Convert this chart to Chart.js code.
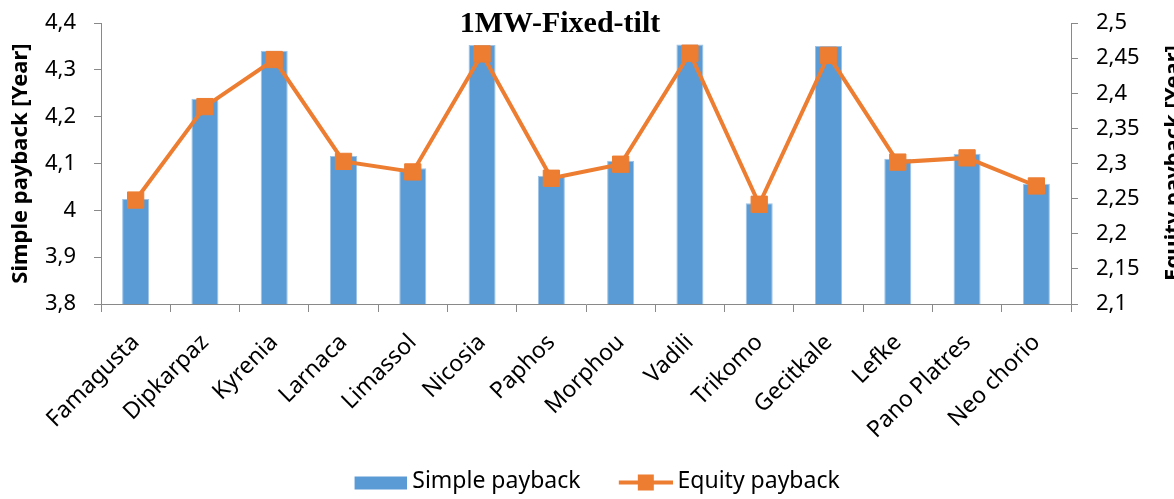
<!DOCTYPE html>
<html>
<head>
<meta charset="utf-8">
<script src="https://cdn.jsdelivr.net/npm/chart.js@4"></script>
<style>
  body { margin: 0; background: #fff; }
  #wrap { width: 1174px; height: 499px; }
</style>
</head>
<body>
<div id="wrap"><canvas id="paybackChart" width="1174" height="499"></canvas></div>
<script>
// data
const sites = ['Famagusta', 'Dipkarpaz', 'Kyrenia', 'Larnaca', 'Limassol', 'Nicosia', 'Paphos',
               'Morphou', 'Vadili', 'Trikomo', 'Gecitkale', 'Lefke', 'Pano Platres', 'Neo chorio'];
const simplePayback = [4.024, 4.238, 4.341, 4.116, 4.090, 4.353, 4.074,
                       4.106, 4.354, 4.015, 4.351, 4.110, 4.121, 4.057];
const equityPayback = [2.248, 2.381, 2.448, 2.303, 2.288, 2.456, 2.279,
                       2.299, 2.457, 2.242, 2.454, 2.302, 2.308, 2.268];
const leftTicks = [3.8, 3.9, 4.0, 4.1, 4.2, 4.3, 4.4];
const rightTicks = [2.1, 2.15, 2.2, 2.25, 2.3, 2.35, 2.4, 2.45, 2.5];

const blue = '#5B9BD5';
const orange = '#ED7D31';
const axisGrey = '#898989';

Chart.defaults.font.family = "'Noto Sans', sans-serif";
Chart.defaults.color = '#000';

function commaLabel(v) {
    return String(Number(v.toFixed(2))).replace('.', ',');
}

// legend symbols, drawn to the right side of their image so the gaps look like excel
function barSymbol() {
    const c = document.createElement('canvas');
    c.width = 78; c.height = 28;
    const g = c.getContext('2d');
    g.fillStyle = blue;
    g.fillRect(26, 9, 52, 13);
    return c;
}
function lineSymbol() {
    const c = document.createElement('canvas');
    c.width = 80; c.height = 28;
    const g = c.getContext('2d');
    g.strokeStyle = orange;
    g.lineWidth = 4;
    g.beginPath(); g.moveTo(26, 15); g.lineTo(80, 15); g.stroke();
    g.fillStyle = orange;
    g.fillRect(45, 7, 16, 16);
    return c;
}
const symbols = [barSymbol(), lineSymbol()];

const extraText = {
    id: 'extraText',
    afterDraw(chart) {
        const ctx = chart.ctx;
        ctx.save();
        ctx.fillStyle = '#000';
        ctx.font = "bold 30px 'Liberation Serif', serif";
        ctx.textAlign = 'center';
        ctx.textBaseline = 'alphabetic';
        ctx.fillText('1MW-Fixed-tilt', 560, 32);
        // right axis title, cut by the edge like the original
        ctx.translate(1180, 163);
        ctx.rotate(-Math.PI / 2);
        ctx.font = "bold 22px 'Noto Sans', sans-serif";
        ctx.fillText('Equity payback [Year]', 0, 0);
        ctx.restore();
    }
};

function noOverhang(scale) {
    scale.paddingTop = 0;
    scale.paddingBottom = 0;
}

new Chart(document.getElementById('paybackChart'), {
    data: {
        labels: sites,
        datasets: [{
            type: 'bar',
            label: 'Simple payback',
            data: simplePayback,
            backgroundColor: blue,
            borderColor: '#9DC3E6',
            borderWidth: 1,
            barPercentage: 0.39,
            categoryPercentage: 1,
            yAxisID: 'y',
            order: 1
        }, {
            type: 'line',
            label: 'Equity payback',
            data: equityPayback,
            borderColor: orange,
            backgroundColor: orange,
            borderWidth: 4,
            tension: 0,
            pointStyle: 'rect',
            pointRadius: 11.5,
            pointBorderWidth: 1,
            yAxisID: 'y1',
            order: 0
        }]
    },
    options: {
        responsive: false,
        animation: false,
        layout: { padding: { top: 23, left: 0, right: 0, bottom: -4 } },
        plugins: {
            legend: {
                position: 'bottom',
                labels: {
                    usePointStyle: true,
                    pointStyleWidth: 66.5,
                    padding: 19,
                    font: { size: 23 },
                    generateLabels(chart) {
                        return chart.data.datasets.map((ds, i) => ({
                            text: ds.label,
                            pointStyle: symbols[i],
                            datasetIndex: i,
                            hidden: false,
                            lineWidth: 0
                        }));
                    }
                }
            },
            tooltip: { enabled: false }
        },
        scales: {
            x: {
                grid: { display: true, drawOnChartArea: false, tickLength: 8, color: axisGrey, offset: true },
                border: { color: axisGrey },
                ticks: { maxRotation: 45, minRotation: 45, font: { size: 23 }, padding: 17 },
                afterFit(scale) { scale.height = 147; }
            },
            y: {
                position: 'left',
                min: 3.8, max: 4.4,
                afterBuildTicks(scale) { scale.ticks = leftTicks.map(v => ({ value: v })); },
                grid: { drawOnChartArea: false, tickLength: 7, color: axisGrey },
                border: { color: axisGrey },
                ticks: { font: { size: 22 }, padding: 18, callback: v => commaLabel(v) },
                title: { display: true, text: 'Simple payback [Year]', font: { size: 22, weight: 'bold' }, padding: { top: 8, bottom: 0 } },
                afterFit(scale) { scale.width = 101; noOverhang(scale); }
            },
            y1: {
                position: 'right',
                min: 2.1, max: 2.5,
                afterBuildTicks(scale) { scale.ticks = rightTicks.map(v => ({ value: v })); },
                grid: { drawOnChartArea: false, tickLength: 7, color: axisGrey },
                border: { color: axisGrey },
                ticks: { font: { size: 22 }, padding: 18, callback: v => commaLabel(v) },
                afterFit(scale) { scale.width = 103; noOverhang(scale); }
            }
        }
    },
    plugins: [extraText]
});
</script>
</body>
</html>
